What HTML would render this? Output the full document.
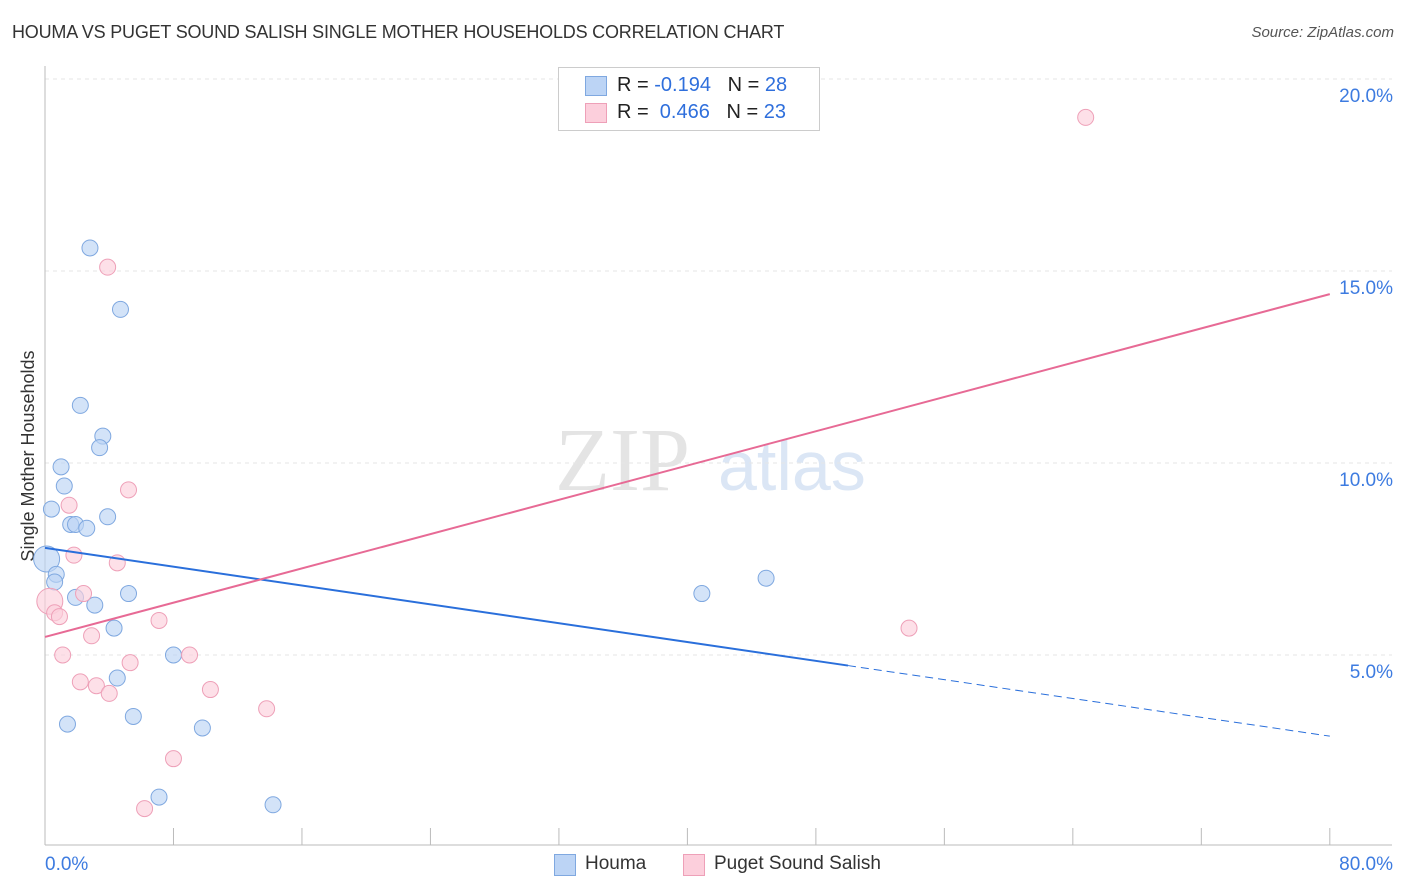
<!DOCTYPE html>
<html><head><meta charset="utf-8"><style>
body{margin:0;background:#fff;font-family:"Liberation Sans",sans-serif;}
#wrap{position:relative;width:1406px;height:892px;overflow:hidden;}
.t{position:absolute;white-space:nowrap;}
</style></head><body>
<div id="wrap">
<div class="t" style="left:12px;top:22px;font-size:18px;color:#333;letter-spacing:-0.2px;">HOUMA VS PUGET SOUND SALISH SINGLE MOTHER HOUSEHOLDS CORRELATION CHART</div>
<div class="t" style="right:12px;top:24px;font-size:15px;color:#555;font-style:italic;">Source: ZipAtlas.com</div>
<svg id="svg" width="1406" height="892" style="position:absolute;left:0;top:0">
<text x="555" y="490" font-family="Liberation Serif" font-size="90" fill="#e4e4e4">ZIP</text>
<text x="718" y="490" font-family="Liberation Sans" font-size="70" fill="#dbe6f5">atlas</text>
<text transform="translate(34,456) rotate(-90)" text-anchor="middle" font-size="18" fill="#333">Single Mother Households</text>
</svg>
<div style="position:absolute;left:558px;top:67px;width:260px;height:62px;border:1px solid #ccc;background:#fff;">
<div style="position:absolute;left:26px;top:8px;width:20px;height:18px;background:#bcd4f5;border:1px solid #7fa8e0;"></div>
<div class="t" style="left:58px;top:6px;font-size:20px;color:#222;">R = <span style="color:#2f6fdc">-0.194</span>&nbsp;&nbsp;&nbsp;N = <span style="color:#2f6fdc">28</span></div>
<div style="position:absolute;left:26px;top:35px;width:20px;height:18px;background:#fccfdc;border:1px solid #eea0b8;"></div>
<div class="t" style="left:58px;top:33px;font-size:20px;color:#222;">R = &nbsp;<span style="color:#2f6fdc">0.466</span>&nbsp;&nbsp;&nbsp;N = <span style="color:#2f6fdc">23</span></div>
</div>
<div style="position:absolute;left:554px;top:854px;width:20px;height:20px;background:#bcd4f5;border:1px solid #7fa8e0;"></div>
<div class="t" style="left:585px;top:853px;font-size:19px;color:#333;">Houma</div>
<div style="position:absolute;left:683px;top:854px;width:20px;height:20px;background:#fccfdc;border:1px solid #eea0b8;"></div>
<div class="t" style="left:714px;top:853px;font-size:19px;color:#333;">Puget Sound Salish</div>
</div>
<script>
const yTicks=[5,10,15,20];
const yTickLabels=["5.0%","10.0%","15.0%","20.0%"];
const xTickLabels=["0.0%","80.0%"];
const houmaX=[2.8,4.7,2.2,3.6,3.4,1.0,1.2,0.4,3.9,1.6,1.9,2.6,0.1,0.7,0.6,5.2,1.9,3.1,4.3,8.0,4.5,5.5,1.4,9.8,7.1,14.2,40.9,44.9];
const houmaY=[15.6,14.0,11.5,10.7,10.4,9.9,9.4,8.8,8.6,8.4,8.4,8.3,7.5,7.1,6.9,6.6,6.5,6.3,5.7,5.0,4.4,3.4,3.2,3.1,1.3,1.1,6.6,7.0];
const pugetX=[64.8,3.9,1.5,5.2,1.8,4.5,2.4,0.3,0.6,0.9,7.1,2.9,1.1,9.0,5.3,2.2,3.2,4.0,10.3,13.8,53.8,8.0,6.2];
const pugetY=[19.0,15.1,8.9,9.3,7.6,7.4,6.6,6.4,6.1,6.0,5.9,5.5,5.0,5.0,4.8,4.3,4.2,4.0,4.1,3.6,5.7,2.3,1.0];
const houmaLine=[7.79,-0.0613];
const pugetLine=[5.47,0.1116];
const svg=document.getElementById('svg');const NS="http://www.w3.org/2000/svg";
const X=v=>45+v*16.06, Y=v=>847-v*38.4;
function el(t,a,n){const e=document.createElementNS(NS,t);for(const k in a)e.setAttribute(k,a[k]);


svg.appendChild(e);return e;}
yTicks.forEach((v,i)=>{el('line',{x1:45,x2:1392,y1:Y(v),y2:Y(v),stroke:'#e6e6e6','stroke-dasharray':'4,4'},'y-gridline');
const t=el('text',{x:1393,y:Y(v)+23,'text-anchor':'end','font-size':19,fill:'#3d7be0'},'y-tick-label');t.textContent=yTickLabels[i];});
el('line',{x1:45,x2:45,y1:66,y2:845,stroke:'#bbb'},'y-axis');
el('line',{x1:45,x2:1392,y1:845,y2:845,stroke:'#bbb'},'x-axis');
for(let i=0;i<=10;i++)el('line',{x1:X(i*8),x2:X(i*8),y1:828,y2:845,stroke:'#bbb'},'x-tick');
let t=el('text',{x:45,y:870,'font-size':19,fill:'#3d7be0'},'x-tick-label');t.textContent=xTickLabels[0];
t=el('text',{x:1393,y:870,'text-anchor':'end','font-size':19,fill:'#3d7be0'},'x-tick-label');t.textContent=xTickLabels[1];
const hy=x=>houmaLine[0]+houmaLine[1]*x, py=x=>pugetLine[0]+pugetLine[1]*x;
function dots(xs,ys,f,s,n){xs.forEach((x,i)=>{const big=(x<0.35);el('circle',{cx:X(x),cy:Y(ys[i]),r:big?13:8,fill:f,'fill-opacity':0.65,stroke:s,'stroke-width':1},n);});}
dots(houmaX,houmaY,'#bcd4f5','#7fa8e0','houma-point');
dots(pugetX,pugetY,'#fccfdc','#eea0b8','puget-point');
el('line',{x1:X(0),y1:Y(hy(0)),x2:X(50),y2:Y(hy(50)),stroke:'#2a6fdb','stroke-width':2},'houma-trend-line');
el('line',{x1:X(50),y1:Y(hy(50)),x2:X(80),y2:Y(hy(80)),stroke:'#2a6fdb','stroke-width':1,'stroke-dasharray':'8,5'},'houma-trend-extension');
el('line',{x1:X(0),y1:Y(py(0)),x2:X(80),y2:Y(py(80)),stroke:'#e76a95','stroke-width':2},'puget-trend-line');
</script>
</body></html>
